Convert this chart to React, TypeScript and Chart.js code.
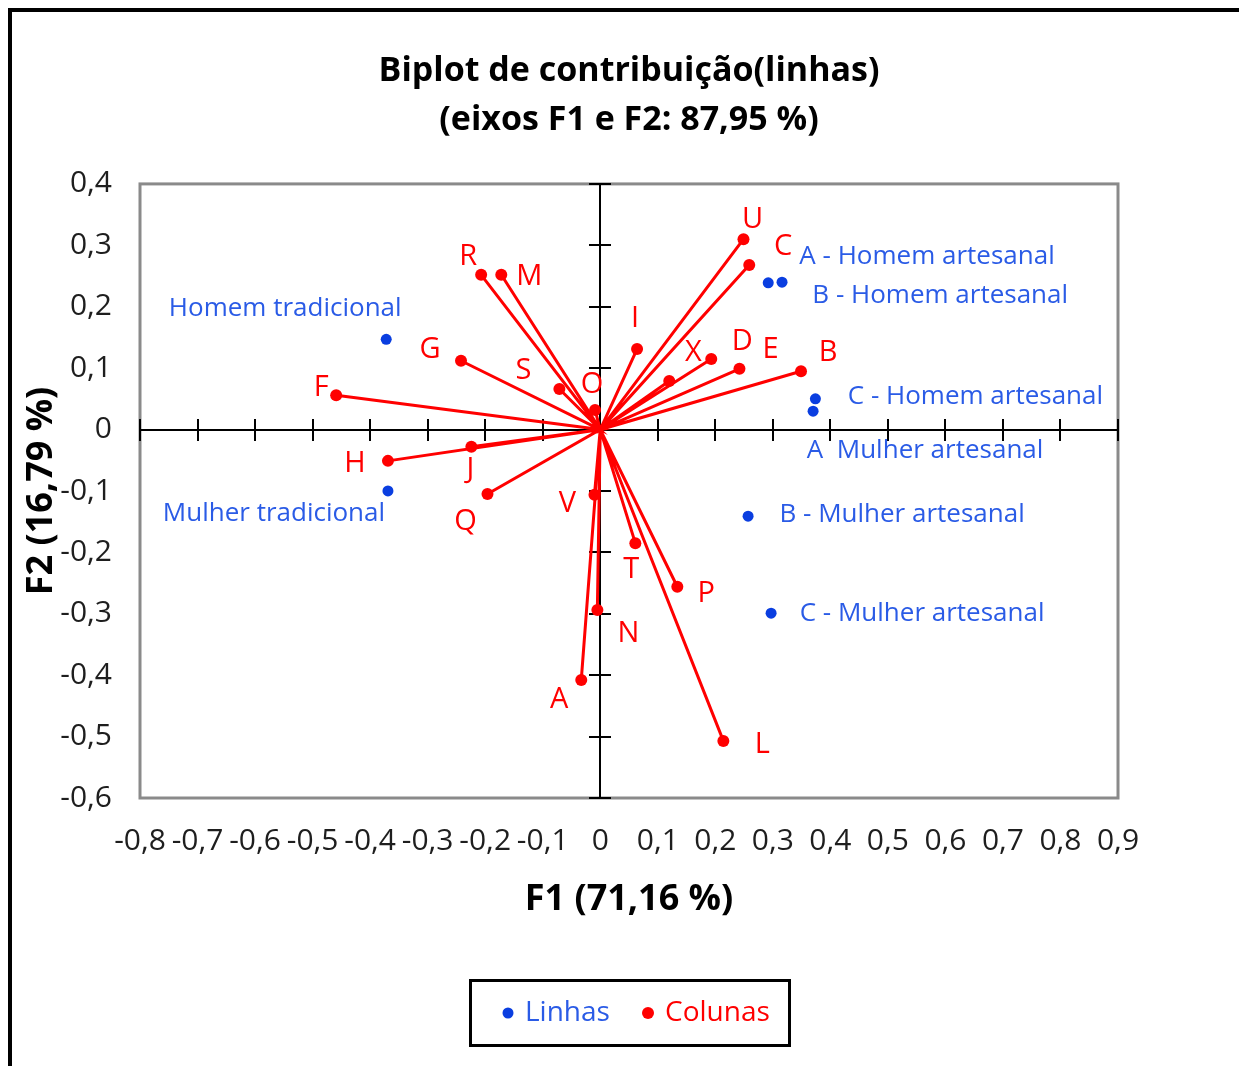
import React, { useEffect, useRef } from 'react';
import { Chart, registerables } from 'chart.js';

Chart.register(...registerables);

// ---- Data -------------------------------------------------------------
const rowNames = [
  'Homem tradicional',
  'Mulher tradicional',
  'A - Homem artesanal',
  'B - Homem artesanal',
  'C - Homem artesanal',
  'A  Mulher artesanal',
  'B - Mulher artesanal',
  'C - Mulher artesanal',
];
const rowF1 = [-0.372, -0.369, 0.316, 0.292, 0.374, 0.37, 0.257, 0.297];
const rowF2 = [0.147, -0.1, 0.24, 0.239, 0.05, 0.03, -0.141, -0.299];

const colNames = ['U', 'C', 'R', 'M', 'I', 'X', 'D', 'E', 'B', 'G', 'S', 'O', 'F', 'H', 'J', 'Q', 'V', 'T', 'P', 'N', 'A', 'L'];
const colF1 = [0.249, 0.259, -0.207, -0.172, 0.064, 0.12, 0.193, 0.242, 0.349, -0.242, -0.071, -0.009, -0.459, -0.369, -0.224, -0.196, -0.01, 0.061, 0.134, -0.005, -0.033, 0.214];
const colF2 = [0.31, 0.268, 0.252, 0.252, 0.131, 0.079, 0.115, 0.099, 0.095, 0.112, 0.066, 0.032, 0.056, -0.051, -0.028, -0.105, -0.106, -0.185, -0.256, -0.294, -0.408, -0.507];

const xTickValues = [-0.8, -0.7, -0.6, -0.5, -0.4, -0.3, -0.2, -0.1, 0, 0.1, 0.2, 0.3, 0.4, 0.5, 0.6, 0.7, 0.8, 0.9];
const xTickLabels = ['-0,8', '-0,7', '-0,6', '-0,5', '-0,4', '-0,3', '-0,2', '-0,1', '0', '0,1', '0,2', '0,3', '0,4', '0,5', '0,6', '0,7', '0,8', '0,9'];
const yTickValues = [-0.6, -0.5, -0.4, -0.3, -0.2, -0.1, 0, 0.1, 0.2, 0.3, 0.4];
const yTickLabels = ['-0,6', '-0,5', '-0,4', '-0,3', '-0,2', '-0,1', '0', '0,1', '0,2', '0,3', '0,4'];

const titleLines = ['Biplot de contribuição(linhas)', '(eixos F1 e F2: 87,95 %)'];
const xTitle = 'F1 (71,16 %)';
const yTitle = 'F2 (16,79 %)';
const rowSeriesName = 'Linhas';
const colSeriesName = 'Colunas';

// ---- Label placement (pixel offsets of the label centre from its point) --
const rowLabelOffsets: [number, number][] = [
  [-101, -31], [-114, 23], [145, -26], [172, 13], [160, -2], [112, 39], [154, -2], [151, 0],
];
const colLabelOffsets: [number, number][] = [
  [9, -19], [34, -18], [-13, -18], [28, 2], [-2, -30], [24, -28], [31, -17], [31, -19], [27, -18],
  [-31, -11], [-36, -18], [-3, -25], [-15, -7], [-33, 3], [-1, 23], [-22, 28], [-27, 9], [-4, 27],
  [29, 7], [31, 24], [-22, 20], [39, 4],
];

// ---- Styles ----------------------------------------------------------------
const FONT = "'Open Sans', sans-serif";
const BLUE = '#0a3ee0';
const BLUE_TEXT = '#2a5be6';
const RED = '#ff0000';
const TICK_COLOR = '#1e1e1e';

const decorPlugin = {
  id: 'decor',
  beforeDraw(chart: any) {
    const ctx = chart.ctx;
    ctx.save();
    ctx.fillStyle = '#ffffff';
    ctx.fillRect(0, 0, chart.width, chart.height);
    ctx.fillStyle = '#000000';
    ctx.fillRect(8, 8, 4, chart.height - 8);
    ctx.fillRect(8, 8, chart.width - 8, 4);
    ctx.restore();
  },
  beforeDatasetsDraw(chart: any) {
    const { ctx, chartArea, scales } = chart;
    const { left, right, top, bottom } = chartArea;
    const x = scales.x;
    const y = scales.y;
    ctx.save();
    ctx.strokeStyle = '#8a8a8a';
    ctx.lineWidth = 3;
    ctx.strokeRect(left, top, right - left, bottom - top);
    const x0 = Math.round(x.getPixelForValue(0));
    const y0 = Math.round(y.getPixelForValue(0));
    ctx.strokeStyle = '#000000';
    ctx.lineWidth = 2;
    ctx.beginPath();
    ctx.moveTo(left, y0);
    ctx.lineTo(right, y0);
    ctx.moveTo(x0, top);
    ctx.lineTo(x0, bottom);
    xTickValues.forEach((v) => {
      const px = Math.round(x.getPixelForValue(v));
      ctx.moveTo(px, y0 - 11);
      ctx.lineTo(px, y0 + 11);
    });
    yTickValues.forEach((v) => {
      const py = Math.round(y.getPixelForValue(v));
      ctx.moveTo(x0 - 11, py);
      ctx.lineTo(x0 + 11, py);
    });
    ctx.stroke();
    ctx.restore();
  },
  afterDatasetsDraw(chart: any) {
    const { ctx, scales } = chart;
    const x = scales.x;
    const y = scales.y;
    ctx.save();
    ctx.textAlign = 'center';
    ctx.textBaseline = 'middle';
    ctx.font = `26px ${FONT}`;
    ctx.fillStyle = BLUE_TEXT;
    rowNames.forEach((name, i) => {
      const [dx, dy] = rowLabelOffsets[i];
      ctx.fillText(name, x.getPixelForValue(rowF1[i]) + dx, y.getPixelForValue(rowF2[i]) + dy);
    });
    ctx.font = `29px ${FONT}`;
    ctx.fillStyle = RED;
    colNames.forEach((name, i) => {
      const [dx, dy] = colLabelOffsets[i];
      ctx.fillText(name, x.getPixelForValue(colF1[i]) + dx, y.getPixelForValue(colF2[i]) + dy);
    });
    ctx.restore();
  },
  afterDraw(chart: any) {
    const ctx = chart.ctx;
    const ds = chart.data.datasets;
    ctx.save();
    ctx.strokeStyle = '#000000';
    ctx.lineWidth = 3;
    ctx.strokeRect(470.5, 980.5, 319, 65);
    ctx.textBaseline = 'middle';
    ctx.textAlign = 'left';
    ctx.font = `28px ${FONT}`;
    const cy = 1013;
    ctx.fillStyle = BLUE;
    ctx.beginPath();
    ctx.arc(508, cy, 5.5, 0, Math.PI * 2);
    ctx.fill();
    ctx.fillStyle = BLUE_TEXT;
    ctx.fillText(ds[0].label, 525, cy);
    ctx.fillStyle = RED;
    ctx.beginPath();
    ctx.arc(648, cy, 6, 0, Math.PI * 2);
    ctx.fill();
    ctx.fillText(ds[1].label, 665, cy);
    ctx.restore();
  },
};

export default function App() {
  const ref = useRef<HTMLCanvasElement>(null);

  useEffect(() => {
    if (!ref.current) return;
    const rowPoints = rowF1.map((v, i) => ({ x: v, y: rowF2[i] }));
    const colPoints = colF1.map((v, i) => ({ x: v, y: colF2[i] }));
    const rays: { x: number; y: number }[] = [];
    colF1.forEach((v, i) => {
      rays.push({ x: 0, y: 0 });
      rays.push({ x: v, y: colF2[i] });
    });

    const chart = new Chart(ref.current, {
      type: 'scatter',
      data: {
        datasets: [
          {
            label: rowSeriesName,
            data: rowPoints,
            backgroundColor: BLUE,
            borderWidth: 0,
            pointRadius: 5.5,
          },
          {
            label: colSeriesName,
            data: colPoints,
            backgroundColor: RED,
            borderWidth: 0,
            pointRadius: 6,
          },
          {
            label: 'rays',
            data: rays,
            showLine: true,
            borderColor: RED,
            borderWidth: 3,
            pointRadius: 0,
            tension: 0,
          } as any,
        ],
      },
      options: {
        responsive: false,
        maintainAspectRatio: false,
        animation: false,
        events: [],
        layout: { padding: { left: 12, right: 121, top: 0, bottom: 145 } },
        plugins: {
          legend: { display: false },
          tooltip: { enabled: false },
          title: {
            display: true,
            fullSize: false,
            text: titleLines,
            color: '#000000',
            font: { family: FONT, size: 34, weight: 'bold', lineHeight: 1.44 },
            padding: { top: 46.5, bottom: 39.5 },
          },
        },
        scales: {
          x: {
            type: 'linear',
            min: -0.8,
            max: 0.9,
            afterBuildTicks: (s: any) => {
              s.ticks = xTickValues.map((v) => ({ value: v }));
            },
            afterFit: (s: any) => {
              s.height = 123;
            },
            grid: { display: false, drawTicks: false },
            border: { display: false },
            ticks: {
              autoSkip: false,
              maxRotation: 0,
              minRotation: 0,
              padding: 25,
              color: TICK_COLOR,
              font: { family: FONT, size: 30 },
              callback: (_v: any, i: number) => xTickLabels[i],
            },
            title: {
              display: true,
              text: xTitle,
              color: '#000000',
              font: { family: FONT, size: 36, weight: 'bold' },
              padding: { top: 0, bottom: 0 },
            },
          },
          y: {
            type: 'linear',
            min: -0.6,
            max: 0.4,
            afterBuildTicks: (s: any) => {
              s.ticks = yTickValues.map((v) => ({ value: v }));
            },
            afterFit: (s: any) => {
              s.width = 128;
            },
            grid: { display: false, drawTicks: false },
            border: { display: false },
            ticks: {
              autoSkip: false,
              padding: 28,
              color: TICK_COLOR,
              font: { family: FONT, size: 30 },
              callback: (_v: any, i: number) => yTickLabels[i],
            },
            title: {
              display: true,
              text: yTitle,
              color: '#000000',
              font: { family: FONT, size: 36, weight: 'bold' },
              padding: { top: 8.4, bottom: 0 },
            },
          },
        },
      },
      plugins: [decorPlugin],
    } as any);

    return () => chart.destroy();
  }, []);

  return (
    <div style={{ position: 'absolute', left: 0, top: 0, width: 1239, height: 1066, background: '#ffffff', overflow: 'hidden' }}>
      <canvas ref={ref} width={1239} height={1066} style={{ display: 'block', width: 1239, height: 1066 }} />
    </div>
  );
}
